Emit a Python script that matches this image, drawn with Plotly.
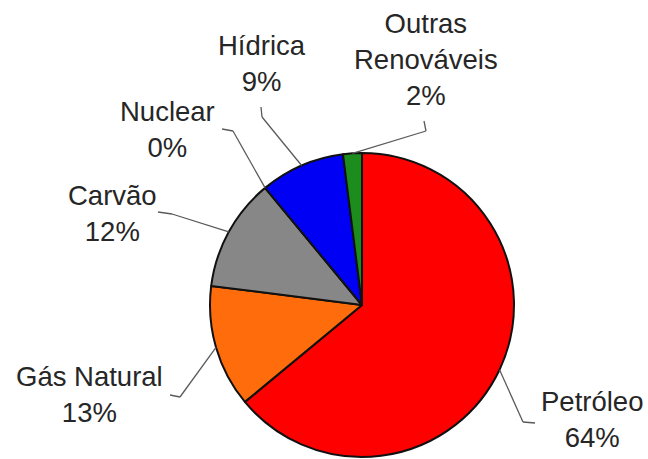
import math
import plotly.graph_objects as go

# Energy sources and their shares (%)
fontes = ["Petróleo", "Gás Natural", "Carvão", "Nuclear", "Hídrica", "Outras Renováveis"]
percentuais = [64, 13, 12, 0, 9, 2]
rotulos = ["Petróleo<br>64%", "Gás Natural<br>13%", "Carvão<br>12%", "Nuclear<br>0%",
           "Hídrica<br>9%", "Outras<br>Renováveis<br>2%"]
cores = ["#FF0000", "#FF6C0C", "#878787", "#FFFF00", "#0000F5", "#1C8C1C"]

W, H = 648, 459
CX, CY, R = 362, 305, 152  # pie centre and radius in pixels

# Label placement (pixels): text centre, elbow of the leader line, end near the text
layout_rotulos = [
    dict(text=(592, 419), elbow=(523, 422), end=(535, 423)),
    dict(text=(89, 394), elbow=(180, 397), end=(170, 395)),
    dict(text=(112, 213), elbow=(172, 214), end=(158, 212)),
    dict(text=(167, 129), elbow=(233, 131), end=(222, 129)),
    dict(text=(262, 64), elbow=(262, 117), end=(261, 107)),
    dict(text=(426, 60), elbow=(426, 131), end=(424, 121)),
]


def px(x, y):
    return x / W, 1 - y / H


fig = go.Figure(go.Pie(
    labels=fontes,
    values=percentuais,
    sort=False,
    direction="clockwise",
    rotation=0,
    marker=dict(colors=cores, line=dict(color="#111111", width=2)),
    textinfo="none",
    showlegend=False,
    domain=dict(x=[(CX - R) / W, (CX + R) / W], y=[(H - CY - R) / H, (H - CY + R) / H]),
))

total = sum(percentuais)
acum = 0
shapes, annotations = [], []
for val, txt, lay in zip(percentuais, rotulos, layout_rotulos):
    meio = (acum + val / 2) / total * 2 * math.pi
    acum += val
    ax, ay = CX + R * math.sin(meio), CY - R * math.cos(meio)
    pts = [(ax, ay), lay["elbow"], lay["end"]]
    for (x0, y0), (x1, y1) in zip(pts[:-1], pts[1:]):
        p0, p1 = px(x0, y0), px(x1, y1)
        shapes.append(dict(type="line", xref="paper", yref="paper",
                           x0=p0[0], y0=p0[1], x1=p1[0], y1=p1[1],
                           line=dict(color="#5a5a5a", width=1.3)))
    tx, ty = px(*lay["text"])
    annotations.append(dict(text=txt, x=tx, y=ty, xref="paper", yref="paper",
                            xanchor="center", yanchor="middle", showarrow=False,
                            font=dict(family="Liberation Sans, Arial", size=27.5, color="#262626")))

fig.update_layout(
    width=W, height=H,
    margin=dict(l=0, r=0, t=0, b=0),
    paper_bgcolor="white", plot_bgcolor="white",
    shapes=shapes, annotations=annotations,
)

fig.write_html("out.html")
